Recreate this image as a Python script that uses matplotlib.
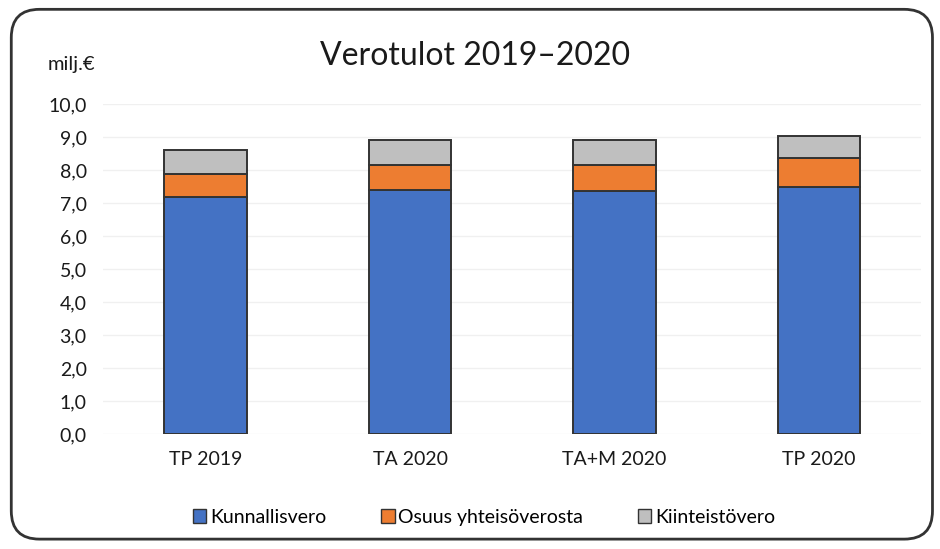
import matplotlib
matplotlib.use("Agg")
import matplotlib.pyplot as plt
from matplotlib.patches import FancyBboxPatch, Patch
import numpy as np

plt.rcParams['font.family'] = ['Lato', 'DejaVu Sans']

categories = ["TP 2019", "TA 2020", "TA+M 2020", "TP 2020"]
kunnallisvero = [7.18, 7.39, 7.37, 7.48]
yhteisovero = [0.70, 0.76, 0.77, 0.88]
kiinteistovero = [0.73, 0.76, 0.77, 0.67]
series_names = ["Kunnallisvero", "Osuus yhteisöverosta", "Kiinteistövero"]
colors = ["#4472C4", "#ED7D31", "#BFBFBF"]
yticks = np.arange(0, 10.01, 1.0)

fig = plt.figure(figsize=(9.4, 5.49), dpi=100)
ax = fig.add_axes([0.11, 0.2095, 0.87, 0.601])

x = np.arange(len(categories))
bottom = np.zeros(len(categories))
for vals, name, col in zip([kunnallisvero, yhteisovero, kiinteistovero], series_names, colors):
    ax.bar(x, vals, width=0.405, bottom=bottom, color=col, edgecolor="#333333",
           linewidth=1.4, label=name, zorder=3)
    bottom += np.array(vals)

ax.set_xlim(-0.5, len(categories) - 0.5)
ax.set_ylim(0, 10)
ax.set_yticks(yticks)
ax.set_yticklabels([f"{v:.1f}".replace(".", ",") for v in yticks], fontsize=14, color="#1a1a1a")
ax.set_xticks(x)
ax.set_xticklabels(categories, fontsize=14, color="#1a1a1a")
ax.tick_params(axis="both", length=0)
ax.tick_params(axis="y", pad=12)
ax.tick_params(axis="x", pad=12)
ax.grid(axis="y", color="#F0F0F0", linewidth=1.0, zorder=0)
for s in ax.spines.values():
    s.set_visible(False)

fig.text(0.505, 0.898, "Verotulot 2019–2020", ha="center", va="center", fontsize=23, color="#1a1a1a")
fig.text(0.051, 0.883, "milj.€", ha="left", va="center", fontsize=14.5, color="#1a1a1a")

handles = [Patch(facecolor=c, edgecolor="#333333", linewidth=1.0) for c in colors]
fig.legend(handles, series_names, loc="center", bbox_to_anchor=(0.515, 0.058), ncol=3,
           frameon=False, fontsize=14, handlelength=0.7, handleheight=0.7,
           handletextpad=0.2, columnspacing=2.8)

border = FancyBboxPatch((0.012, 0.018), 0.98, 0.965, boxstyle="round,pad=0,rounding_size=0.03",
                        transform=fig.transFigure, facecolor="none", edgecolor="#333333",
                        linewidth=2.0, mutation_aspect=940/549)
fig.patches.append(border)

fig.savefig("out.png", dpi=100)
